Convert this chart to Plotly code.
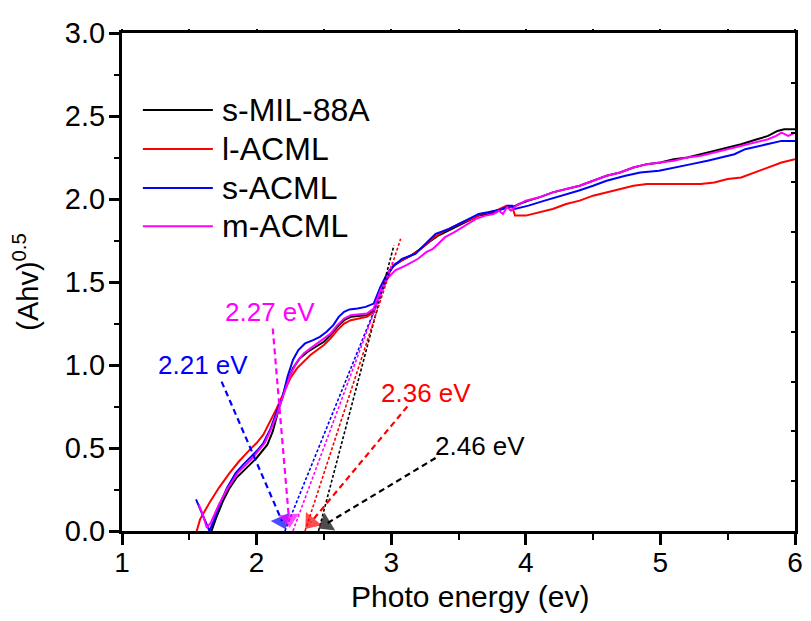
import plotly.graph_objects as go

# ---------------- data ----------------
names = ["s-MIL-88A", "l-ACML", "s-ACML", "m-ACML"]
colors = ["#000000", "#ff0000", "#0000ff", "#ff00ff"]

black_x = [1.665, 1.70, 1.75, 1.80, 1.85, 1.89, 1.95, 2.00, 2.05, 2.08, 2.12, 2.17, 2.22, 2.27, 2.32, 2.38,
           2.44, 2.50, 2.55, 2.60, 2.65, 2.70, 2.75, 2.82, 2.87, 2.92, 2.97, 3.02, 3.08, 3.15, 3.22, 3.28,
           3.35, 3.40, 3.47, 3.53, 3.60, 3.65, 3.72, 3.78, 3.82, 3.86, 3.90, 3.95, 4.02, 4.10, 4.20, 4.30,
           4.40, 4.50, 4.60, 4.70, 4.80, 4.90, 5.00, 5.10, 5.20, 5.30, 5.40, 5.50, 5.60, 5.70, 5.80, 5.87,
           5.92, 6.00]
black_y = [0.00, 0.08, 0.18, 0.26, 0.32, 0.35, 0.40, 0.44, 0.49, 0.52, 0.60, 0.75, 0.88, 0.98, 1.04, 1.08,
           1.11, 1.14, 1.18, 1.23, 1.27, 1.29, 1.295, 1.30, 1.33, 1.46, 1.54, 1.60, 1.63, 1.66, 1.70, 1.74,
           1.78, 1.80, 1.83, 1.85, 1.88, 1.90, 1.91, 1.92, 1.94, 1.95, 1.95, 1.97, 1.99, 2.01, 2.04, 2.06,
           2.08, 2.11, 2.14, 2.16, 2.19, 2.21, 2.22, 2.24, 2.25, 2.27, 2.29, 2.31, 2.33, 2.355, 2.38, 2.41,
           2.42, 2.42]

red_x = [1.555, 1.58, 1.65, 1.72, 1.80, 1.87, 1.95, 2.00, 2.05, 2.10, 2.15, 2.20, 2.25, 2.30, 2.35, 2.40,
         2.45, 2.50, 2.55, 2.60, 2.65, 2.70, 2.76, 2.82, 2.87, 2.92, 2.97, 3.03, 3.10, 3.17, 3.25, 3.32,
         3.38, 3.45, 3.53, 3.60, 3.67, 3.73, 3.78, 3.83, 3.86, 3.90, 3.92, 4.00, 4.10, 4.20, 4.30, 4.40,
         4.50, 4.60, 4.70, 4.80, 4.90, 5.00, 5.10, 5.20, 5.30, 5.40, 5.50, 5.60, 5.70, 5.80, 5.90, 6.00]
red_y = [0.00, 0.07, 0.17, 0.26, 0.35, 0.42, 0.49, 0.53, 0.58, 0.66, 0.74, 0.83, 0.92, 0.98, 1.02, 1.06,
         1.09, 1.12, 1.16, 1.21, 1.25, 1.27, 1.28, 1.29, 1.32, 1.46, 1.55, 1.61, 1.64, 1.67, 1.72, 1.77,
         1.80, 1.83, 1.86, 1.88, 1.91, 1.92, 1.93, 1.95, 1.96, 1.95, 1.90, 1.90, 1.92, 1.94, 1.97, 1.99,
         2.02, 2.04, 2.06, 2.08, 2.09, 2.09, 2.09, 2.09, 2.09, 2.10, 2.12, 2.13, 2.16, 2.19, 2.22, 2.24]

blue_x = [1.55, 1.58, 1.61, 1.65, 1.68, 1.72, 1.78, 1.845, 1.90, 1.96, 2.01, 2.05, 2.10, 2.15, 2.19, 2.23,
          2.27, 2.31, 2.36, 2.42, 2.47, 2.52, 2.57, 2.61, 2.65, 2.69, 2.75, 2.81, 2.87, 2.92, 2.97, 3.01,
          3.08, 3.18, 3.28, 3.33, 3.43, 3.53, 3.60, 3.65, 3.72, 3.78, 3.83, 3.87, 3.90, 3.92, 4.02, 4.14,
          4.27, 4.39, 4.50, 4.60, 4.74, 4.85, 4.99, 5.10, 5.23, 5.35, 5.48, 5.55, 5.63, 5.78, 5.90, 6.00]
blue_y = [0.19, 0.13, 0.07, 0.00, 0.06, 0.15, 0.26, 0.35, 0.40, 0.45, 0.49, 0.53, 0.61, 0.72, 0.80, 0.93,
          1.03, 1.09, 1.13, 1.15, 1.17, 1.20, 1.24, 1.29, 1.32, 1.335, 1.34, 1.35, 1.37, 1.47, 1.55, 1.59,
          1.64, 1.67, 1.75, 1.79, 1.82, 1.86, 1.89, 1.91, 1.92, 1.93, 1.94, 1.96, 1.96, 1.94, 1.96, 1.99,
          2.02, 2.05, 2.08, 2.11, 2.14, 2.16, 2.17, 2.19, 2.21, 2.23, 2.255, 2.27, 2.30, 2.33, 2.35, 2.35]

magenta_x = [1.57, 1.60, 1.63, 1.66, 1.72, 1.78, 1.86, 1.92, 1.97, 2.02, 2.06, 2.10, 2.15, 2.20, 2.25, 2.30,
             2.35, 2.40, 2.45, 2.50, 2.55, 2.60, 2.65, 2.70, 2.76, 2.82, 2.87, 2.92, 2.97, 3.03, 3.11, 3.20,
             3.26, 3.31, 3.35, 3.40, 3.47, 3.53, 3.58, 3.63, 3.70, 3.76, 3.80, 3.83, 3.86, 3.89, 3.93, 4.00,
             4.10, 4.20, 4.30, 4.40, 4.50, 4.60, 4.70, 4.80, 4.90, 5.00, 5.10, 5.20, 5.30, 5.40, 5.50, 5.60,
             5.70, 5.80, 5.86, 5.90, 5.95, 6.00]
magenta_y = [0.16, 0.10, 0.02, 0.05, 0.16, 0.25, 0.35, 0.40, 0.44, 0.49, 0.53, 0.60, 0.70, 0.82, 0.94, 1.02,
             1.07, 1.10, 1.13, 1.16, 1.19, 1.24, 1.28, 1.30, 1.305, 1.31, 1.34, 1.45, 1.52, 1.57, 1.60, 1.64,
             1.68, 1.70, 1.73, 1.77, 1.80, 1.83, 1.85, 1.88, 1.90, 1.91, 1.93, 1.91, 1.95, 1.93, 1.96, 1.99,
             2.01, 2.04, 2.06, 2.08, 2.11, 2.14, 2.16, 2.19, 2.21, 2.22, 2.23, 2.25, 2.26, 2.28, 2.30, 2.32,
             2.34, 2.36, 2.38, 2.40, 2.38, 2.40]

series_x = [black_x, red_x, blue_x, magenta_x]
series_y = [black_y, red_y, blue_y, magenta_y]

# band-gap tangent lines: intercept at y=0 and upper end point
gap_values = [2.46, 2.36, 2.21, 2.27]
tangent_top_x = [3.02, 3.07, 3.00, 3.01]
tangent_top_y = [1.72, 1.76, 1.58, 1.62]

# labelled arrows (start point -> tip)
label_texts = ["2.46 eV", "2.36 eV", "2.21 eV", "2.27 eV"]
label_x = [3.66, 3.26, 1.60, 2.10]
label_y = [0.51, 0.83, 1.00, 1.32]
arrow_start_x = [3.33, 3.12, 1.74, 2.12]
arrow_start_y = [0.44, 0.75, 0.90, 1.22]
arrow_tip_x = [2.47, 2.37, 2.21, 2.245]
arrow_tip_y = [0.02, 0.02, 0.02, 0.03]

x_ticks = [1, 2, 3, 4, 5, 6]
y_ticks = [0.0, 0.5, 1.0, 1.5, 2.0, 2.5, 3.0]

FONT = "Liberation Sans, Arial, sans-serif"
PLOT_W, PLOT_H = 673, 498
PX_PER_X = PLOT_W / 5.0
PX_PER_Y = PLOT_H / 3.0
HEAD = 18  # arrow head marker size (px)

fig = go.Figure()

for xs, ys, c, n in zip(series_x, series_y, colors, names):
    fig.add_trace(go.Scatter(x=xs, y=ys, mode="lines", name=n,
                             line=dict(color=c, width=2), showlegend=False))

# tangent (dotted) lines
for g, tx, ty, c in zip(gap_values, tangent_top_x, tangent_top_y, colors):
    fig.add_trace(go.Scatter(x=[g, tx], y=[0, ty], mode="lines", showlegend=False,
                             line=dict(color=c, width=1.6, dash="3px,2px"), hoverinfo="skip"))

# dashed arrows with arrow-head markers
for sx, sy, tx, ty, c in zip(arrow_start_x, arrow_start_y, arrow_tip_x, arrow_tip_y, colors):
    dxp = (tx - sx) * PX_PER_X
    dyp = (ty - sy) * PX_PER_Y
    L = (dxp ** 2 + dyp ** 2) ** 0.5
    mx = tx - dxp / L * HEAD * 0.4 / PX_PER_X
    my = ty - dyp / L * HEAD * 0.4 / PX_PER_Y
    fig.add_trace(go.Scatter(x=[sx, mx], y=[sy, my], mode="lines", showlegend=False,
                             line=dict(color=c, width=2.2, dash="6px,4px"), hoverinfo="skip"))
    fig.add_trace(go.Scatter(x=[sx, mx], y=[sy, my], mode="markers", showlegend=False,
                             marker=dict(symbol="triangle-up", size=[0, HEAD], color=c,
                                         angleref="previous", line=dict(width=0)),
                             hoverinfo="skip"))

for t, lx, ly, c in zip(label_texts, label_x, label_y, colors):
    fig.add_annotation(x=lx, y=ly, text=t, showarrow=False,
                       font=dict(family=FONT, size=26, color=c))

# manual legend
leg_rows = [0.8454, 0.767, 0.689, 0.612]
for n, c, ry in zip(names, colors, leg_rows):
    fig.add_shape(type="line", xref="paper", yref="paper", x0=0.031, x1=0.135, y0=ry, y1=ry,
                  line=dict(color=c, width=2))
    fig.add_annotation(xref="paper", yref="paper", x=0.146, y=ry, text=n, showarrow=False,
                       xanchor="left", yanchor="middle",
                       font=dict(family=FONT, size=32, color="black"))

# x-axis title (slightly right of centre, as in the reference)
fig.add_annotation(xref="paper", yref="paper", x=0.517, y=-0.1325, text="Photo energy (ev)",
                   showarrow=False, xanchor="center", yanchor="middle",
                   font=dict(family=FONT, size=30, color="black"))

# dummy trace for secondary (top/right) tick axes
fig.add_trace(go.Scatter(x=[None], y=[None], xaxis="x2", yaxis="y2", showlegend=False,
                         hoverinfo="skip"))

fig.update_layout(
    width=795, height=605,
    margin=dict(l=114, r=8, t=25, b=82, autoexpand=False),
    paper_bgcolor="white", plot_bgcolor="white",
    showlegend=False,
    xaxis=dict(range=[1, 6], tickvals=x_ticks, ticks="outside", ticklen=11, tickwidth=2.5,
               tickcolor="black", showline=True, linewidth=3, linecolor="black", mirror=True,
               showgrid=False, zeroline=False, automargin=False, ticklabeloverflow="allow",
               ticklabelstandoff=-7,
               minor=dict(dtick=0.5, tick0=1, ticks="outside", ticklen=6, tickwidth=2, tickcolor="black"),
               tickfont=dict(family=FONT, size=28, color="black")),
    yaxis=dict(range=[0, 3], tickvals=y_ticks, tickformat=".1f", ticks="outside", ticklen=10,
               tickwidth=2.5, tickcolor="black", showline=True, linewidth=3, linecolor="black",
               mirror=True, showgrid=False, zeroline=False, automargin=False,
               ticklabelstandoff=-2,
               minor=dict(dtick=0.25, tick0=0, ticks="outside", ticklen=5, tickwidth=2, tickcolor="black"),
               tickfont=dict(family=FONT, size=29, color="black"),
               title=dict(text="(Ahv)<sup>0.5</sup>", font=dict(family=FONT, size=29, color="black"),
                          standoff=26)),
    xaxis2=dict(overlaying="x", side="top", range=[1, 6], dtick=0.5, tick0=1, ticks="outside",
                ticklen=3, tickwidth=2, tickcolor="black", showticklabels=False, showgrid=False,
                zeroline=False, showline=False),
    yaxis2=dict(overlaying="y", side="right", range=[0, 3], dtick=0.3, tick0=0, ticks="inside",
                ticklen=4, tickwidth=2, tickcolor="black", showticklabels=False, showgrid=False,
                zeroline=False, showline=False),
)

fig.write_html("out.html")
